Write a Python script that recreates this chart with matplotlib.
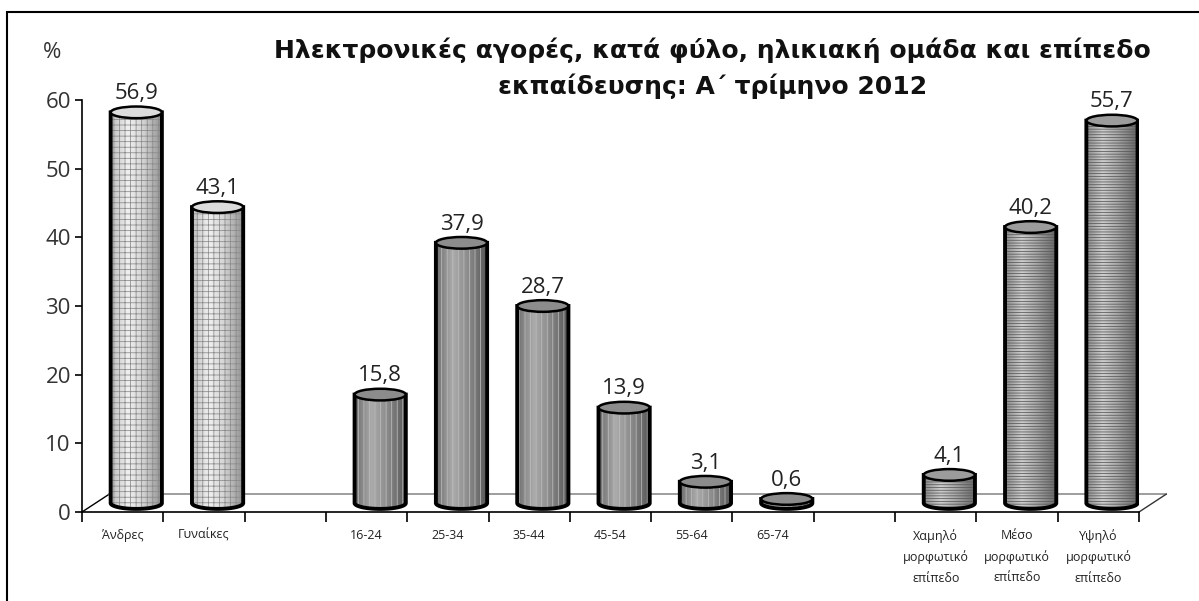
import numpy as np
import matplotlib
matplotlib.use("Agg")
import matplotlib.pyplot as plt
from matplotlib.path import Path
from matplotlib.patches import PathPatch, Ellipse, Rectangle
from matplotlib.colors import LinearSegmentedColormap

plt.rcParams['font.family'] = ['Open Sans', 'DejaVu Sans']
plt.rcParams['hatch.linewidth'] = 0.55

# Data: share of e-shoppers (%) by sex, age group and education level
gender_labels = ['Άνδρες', 'Γυναίκες']
gender_values = [56.9, 43.1]

age_labels = ['16-24', '25-34', '35-44', '45-54', '55-64', '65-74']
age_values = [15.8, 37.9, 28.7, 13.9, 3.1, 0.6]

edu_labels = ['Χαμηλό\nμορφωτικό\nεπίπεδο', 'Μέσο\nμορφωτικό\nεπίπεδο',
              'Υψηλό\nμορφωτικό\nεπίπεδο']
edu_values = [4.1, 40.2, 55.7]

title_line1 = 'Ηλεκτρονικές αγορές, κατά φύλο, ηλικιακή ομάδα και επίπεδο'
title_line2 = 'εκπαίδευσης: Α΄ τρίμηνο 2012'

# slot layout: gap slot between the three groups
gender_pos = [0, 1]
age_pos = [3, 4, 5, 6, 7, 8]
edu_pos = [10, 11, 12]
n_slots = 13

# pseudo-3D geometry (data units)
DX, DY = 0.335, 2.6        # floor depth
BAR_W = 0.63               # cylinder width in slots
RY = 0.85                  # half height of the ellipses

styles = {
    'gender': dict(cols=['#bdbdbd', '#f0f0f0', '#d6d6d6', '#909090'],
                   hatch='+++', hcol='#8a8a8a', top='#dcdcdc'),
    'age': dict(cols=['#6e6e6e', '#ababab', '#8e8e8e', '#555555'],
                hatch='|||', hcol='#bcbcbc', top='#8c8c8c'),
    'edu': dict(cols=['#8a8a8a', '#cfcfcf', '#a8a8a8', '#666666'],
                hatch='------', hcol='#585858', top='#9c9c9c'),
}


def cylinder(ax, xc, val, st, z):
    hw = BAR_W / 2
    y0 = DY / 2
    y1 = y0 + val
    t = np.linspace(0, np.pi, 40)
    verts = [(xc - hw, y1), (xc + hw, y1)]
    verts += list(zip(xc + hw * np.cos(t), y0 - RY * np.sin(t)))
    verts += [(xc - hw, y1)]
    codes = [Path.MOVETO] + [Path.LINETO] * (len(verts) - 2) + [Path.CLOSEPOLY]
    path = Path(verts, codes)

    body = PathPatch(path, facecolor='none', edgecolor='none', zorder=z)
    ax.add_patch(body)
    cmap = LinearSegmentedColormap.from_list(
        'shade', list(zip([0, 0.32, 0.6, 1], st['cols'])))
    grad = np.linspace(0, 1, 200).reshape(1, -1)
    im = ax.imshow(grad, cmap=cmap, aspect='auto', zorder=z,
                   extent=(xc - hw, xc + hw, y0 - RY, y1), interpolation='bilinear')
    im.set_clip_path(body)

    ax.add_patch(PathPatch(path, facecolor='none', edgecolor=st['hcol'],
                           lw=0, hatch=st['hatch'], zorder=z + 0.1))
    ax.add_patch(PathPatch(path, facecolor='none', edgecolor='black',
                           lw=2.8, zorder=z + 0.2))
    ax.add_patch(Ellipse((xc, y1), 2 * hw, 2 * RY, facecolor=st['top'],
                         edgecolor='black', lw=1.8, zorder=z + 0.3))
    ax.text(xc, y1 + RY + 0.35, f'{val:.1f}'.replace('.', ','),
            ha='center', va='bottom', fontsize=16, color='#222222', zorder=z + 0.4)


W, H = 1199, 601
fig = plt.figure(figsize=(W / 100, H / 100), dpi=100)
ax = fig.add_axes([82 / W, (H - 512) / H, (1139 - 82) / W, (512 - 100) / H])

# floor of the 3D box
ax.plot([-0.5, -0.5 + DX], [0, DY], color='black', lw=1, clip_on=False, zorder=1)
ax.plot([-0.5 + DX, n_slots - 0.5 + DX], [DY, DY], color='#8c8c8c', lw=1.2,
        clip_on=False, zorder=1)
ax.plot([n_slots - 0.5, n_slots - 0.5 + DX], [0, DY], color='#333333', lw=1,
        clip_on=False, zorder=1)

z = 3
for pos, vals, key in [(gender_pos, gender_values, 'gender'),
                       (age_pos, age_values, 'age'),
                       (edu_pos, edu_values, 'edu')]:
    for p, v in zip(pos, vals):
        cylinder(ax, p + DX / 2, v, styles[key], z)
        z += 1

ax.set_xlim(-0.5, n_slots - 0.5)
ax.set_ylim(0, 60)
for s in ['top', 'right']:
    ax.spines[s].set_visible(False)
ax.spines['left'].set_linewidth(1.2)
ax.spines['bottom'].set_linewidth(1.2)
ax.set_facecolor('none')

ax.set_yticks(range(0, 61, 10))
ax.tick_params(axis='y', length=5, width=1.2, pad=3, labelsize=16,
               labelcolor='#333333')

ax.set_xticks(np.arange(-0.5, n_slots, 1))
ax.tick_params(axis='x', which='major', length=7.5, width=1.2, labelbottom=False)
all_pos = gender_pos + age_pos + edu_pos
all_labels = gender_labels + age_labels + edu_labels
ax.set_xticks(all_pos, minor=True)
ax.set_xticklabels(all_labels, minor=True, fontsize=9, linespacing=1.75,
                   color='#222222', va='top')
ax.tick_params(axis='x', which='minor', length=0, pad=12)

title_font = dict(ha='center', va='center', fontsize=18, fontweight='bold',
                  color='#111111', family=['DejaVu Sans'])
fig.text(0.594, 1 - 50 / H, title_line1, **title_font)
fig.text(0.594, 1 - 86 / H, title_line2, **title_font)
fig.text(52 / W, 1 - 52 / H, '%', ha='center', va='center', fontsize=16,
         color='#333333')

fig.add_artist(Rectangle((7 / W, -0.05), 1.2, 1 - 12 / H + 0.05,
                         transform=fig.transFigure, fill=False,
                         edgecolor='black', lw=1.5))

fig.savefig('out.png', dpi=100)
